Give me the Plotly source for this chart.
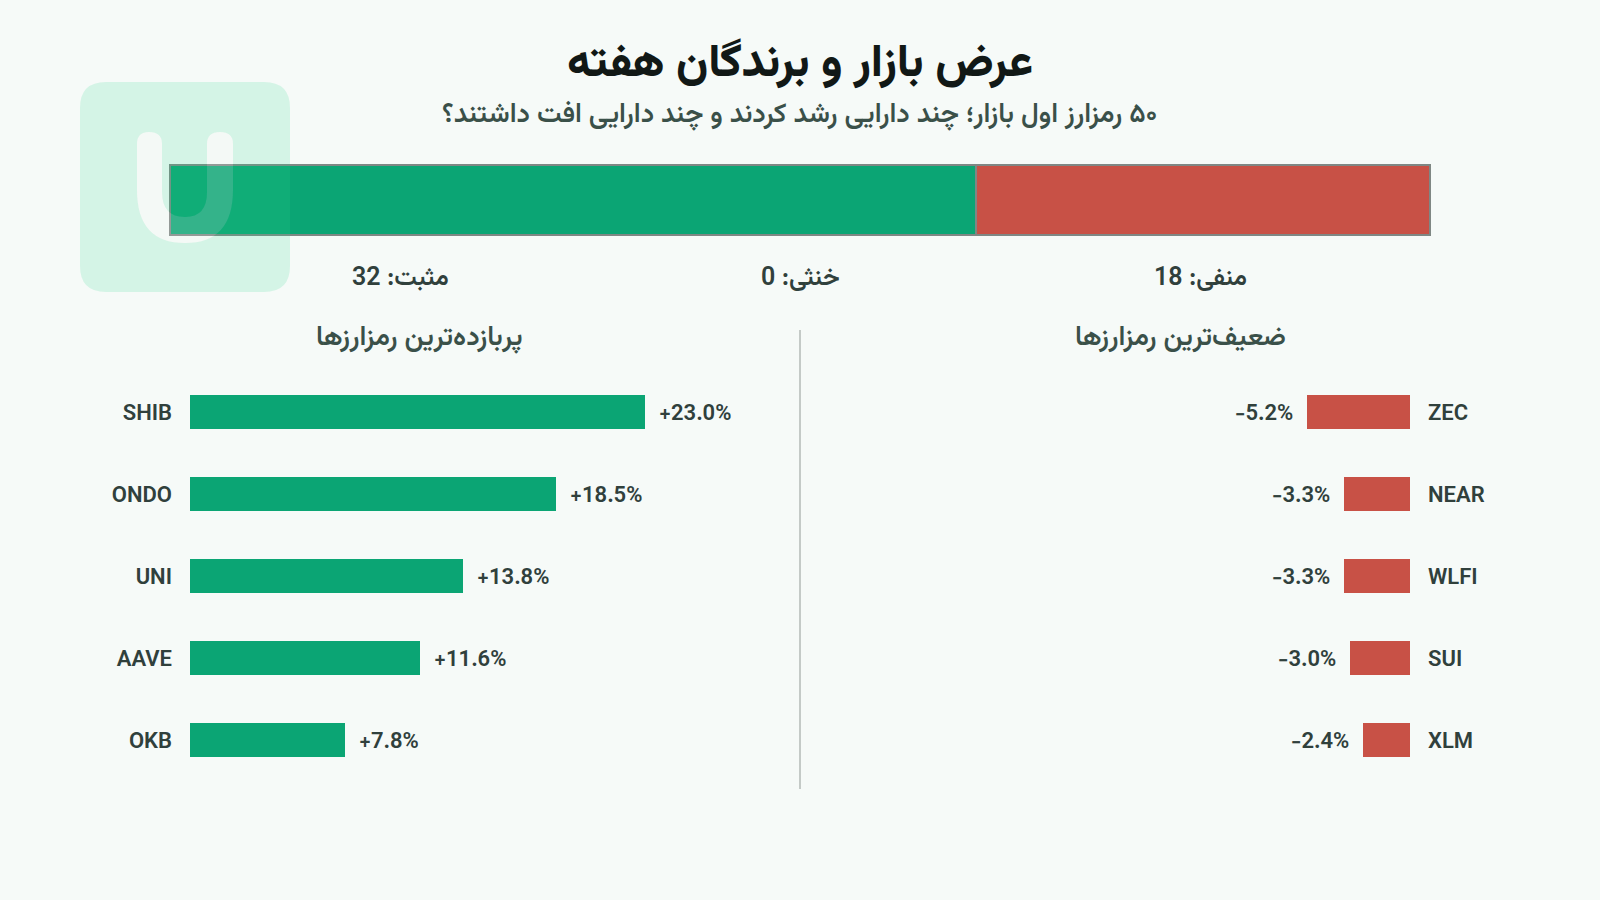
import plotly.graph_objects as go

# top / bottom movers
gainers = ["SHIB", "ONDO", "UNI", "AAVE", "OKB"]
gainer_values = [23.0, 18.5, 13.8, 11.6, 7.84]
losers = ["ZEC", "NEAR", "WLFI", "SUI", "XLM"]
loser_values = [-5.2, -3.34, -3.34, -3.04, -2.36]

breadth_names = ["مثبت", "خنثی", "منفی"]
breadth_values = [32, 0, 18]

title_text = "عرض بازار و برندگان هفته"
subtitle_text = "\u200f۵۰ رمزارز اول بازار؛ چند دارایی رشد کردند و چند دارایی افت داشتند؟"
left_header = "پربازده‌ترین رمزارزها"
right_header = "ضعیف‌ترین رمزارزها"

W, H = 1600, 900
GREEN = "#0ba574"
RED = "#c85146"
BG = "#f6faf8"
DARK = "#30403c"
FONT = "Vazirmatn, Roboto, 'Noto Sans', sans-serif"


def px(x):
    return x / W


def py(y):
    return 1 - y / H


fig = go.Figure()

# breadth bar
for name, val, col in zip(breadth_names, breadth_values, [GREEN, "#9aa5a1", RED]):
    fig.add_trace(go.Bar(x=[val], y=["breadth"], orientation="h", name=name, xaxis="x3", yaxis="y3", width=1,
                         marker=dict(color=col, line=dict(color="#7f8784", width=2)), showlegend=False))

fig.add_trace(go.Bar(x=gainer_values, y=gainers, orientation="h", xaxis="x", yaxis="y",
                     marker=dict(color=GREEN, line=dict(width=0)), showlegend=False))
fig.add_trace(go.Bar(x=loser_values, y=losers, orientation="h", xaxis="x2", yaxis="y2",
                     marker=dict(color=RED, line=dict(width=0)), showlegend=False))

annotations = []


def label(text, x, y, size, color=DARK, weight=600):
    annotations.append(dict(text=text, x=px(x), y=py(y), xref="paper", yref="paper", showarrow=False,
                            xanchor="center", yanchor="middle",
                            font=dict(family=FONT, size=size, color=color, weight=weight)))


label(title_text, 800, 65, 46, "#111816", 800)
label(subtitle_text, 800, 116, 27.2, "#3a5049", 600)
label(left_header, 419, 338, 27.2, "#3a5049", 600)
label(right_header, 1180, 338, 27.2, "#3a5049", 600)

for (name, val), cx in zip(zip(breadth_names, breadth_values), [400, 800, 1200]):
    label(f"{name}: {val}", cx, 278, 25)

for name, val in zip(gainers, gainer_values):
    annotations.append(dict(text=f"+{val:.1f}%", x=val, y=name, xref="x", yref="y", showarrow=False,
                            xanchor="left", xshift=12, yshift=-2,
                            font=dict(family=FONT, size=22, color=DARK, weight=600)))
for name, val in zip(losers, loser_values):
    annotations.append(dict(text=f"−{abs(val):.1f}%", x=val, y=name, xref="x2", yref="y2", showarrow=False,
                            xanchor="right", xshift=-12, yshift=-2,
                            font=dict(family=FONT, size=22, color=DARK, weight=600)))

# watermark logo, U is a hole in the panel
panel = ("M 106 82 L 264 82 Q 290 82 290 108 L 290 266 Q 290 292 264 292 L 106 292 Q 80 292 80 266 L 80 108 Q 80 82 106 82 Z ")
u_path = ("M 149 132 Q 137 132 137 144 L 137 190 Q 137 243 185 243 Q 233 243 233 190 L 233 144 Q 233 132 220 132 "
          "Q 207 132 207 144 L 207 192 Q 207 217 185 217 Q 162 217 162 192 L 162 144 Q 162 132 149 132 Z")


def to_paper(path):
    out = []
    toks = path.split()
    is_x = True
    for t in toks:
        if t.isalpha():
            out.append(t)
            is_x = True
        else:
            v = float(t)
            out.append(f"{px(v):.5f}" if is_x else f"{py(v):.5f}")
            is_x = not is_x
    return " ".join(out)


shapes = [
    dict(type="path", path=to_paper(panel + u_path), xref="paper", yref="paper", layer="above",
         fillcolor="rgba(40,220,140,0.165)", line=dict(width=0)),
    dict(type="path", path=to_paper(u_path), xref="paper", yref="paper", layer="above",
         fillcolor="rgba(236,243,240,0.18)", line=dict(width=0)),
    dict(type="line", x0=px(800), x1=px(800), y0=py(330), y1=py(789), xref="paper", yref="paper",
         line=dict(color="#b3bab7", width=1.5)),
]

band_top, band_bottom = 371, 781
tick_font = dict(family=FONT, size=22, color=DARK, weight=600)

# breadth axes are padded a little so the bar outline is not clipped
bar_left, bar_right, bar_top, bar_bottom = 170.4, 1429.6, 164.8, 234.7
pad_x = 2 / ((bar_right - bar_left) / 50)
pad_y = 2 / (bar_bottom - bar_top)

fig.update_layout(
    width=W, height=H, margin=dict(l=0, r=0, t=0, b=0),
    paper_bgcolor=BG, plot_bgcolor="rgba(0,0,0,0)",
    barmode="stack", bargap=0.585, showlegend=False,
    annotations=annotations, shapes=shapes,
    xaxis=dict(domain=[px(190), px(190 + 19.8 * 25)], range=[0, 25], visible=False, anchor="y"),
    yaxis=dict(domain=[py(band_bottom), py(band_top)], autorange="reversed", type="category",
               categoryorder="array", categoryarray=gainers, anchor="x", showgrid=False, showline=False,
               ticks="", ticklabelstandoff=17, tickfont=tick_font, zeroline=False),
    xaxis2=dict(domain=[px(1410 - 19.8 * 25), px(1410)], range=[-25, 0], visible=False, anchor="y2"),
    yaxis2=dict(domain=[py(band_bottom), py(band_top)], autorange="reversed", type="category",
                categoryorder="array", categoryarray=losers, anchor="x2", side="right", showgrid=False,
                showline=False, ticks="", ticklabelstandoff=17, tickfont=tick_font, zeroline=False),
    xaxis3=dict(domain=[px(bar_left - 2), px(bar_right + 2)], range=[-pad_x, 50 + pad_x], visible=False, anchor="y3"),
    yaxis3=dict(domain=[py(bar_bottom + 2), py(bar_top - 2)], range=[-0.5 - pad_y, 0.5 + pad_y], visible=False,
                anchor="x3", type="category"),
)

fig.write_html("out.html", config=dict(displayModeBar=False), post_script="document.body.style.margin='0';")
